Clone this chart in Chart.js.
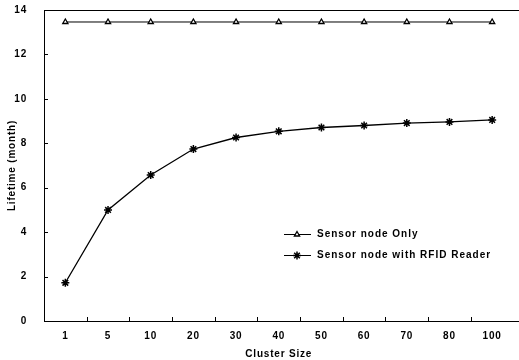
<!DOCTYPE html>
<html>
<head>
<meta charset="utf-8">
<script src="https://cdn.jsdelivr.net/npm/chart.js@4.4.1/dist/chart.umd.min.js"></script>
<style>
  html, body { margin: 0; padding: 0; background: #fff; }
  #wrap { width: 519px; height: 360px; }
</style>
</head>
<body>
<div id="wrap"><canvas id="lifeChart" width="519" height="360"></canvas></div>
<script>
/* ===== data ===== */
const clusterSizes = ["1", "5", "10", "20", "30", "40", "50", "60", "70", "80", "100"];
const sensorOnly = [13.46, 13.46, 13.46, 13.46, 13.46, 13.46, 13.46, 13.46, 13.46, 13.46, 13.46];
const sensorWithRfid = [1.72, 5.0, 6.57, 7.74, 8.26, 8.54, 8.71, 8.8, 8.91, 8.96, 9.05];
const seriesNames = ["Sensor node Only", "Sensor node with RFID Reader"];

const FONT = "'Liberation Sans', Arial, sans-serif";

/* wide-tracked bold text like the scanned figure */
const spacing = {
    id: "spacing",
    beforeDraw(chart) {
        chart.ctx.letterSpacing = "0.8px";
    }
};

/* frame (top, left, bottom) + inward tick marks */
const frameTicks = {
    id: "frameTicks",
    afterDatasetsDraw(chart) {
        const { ctx, chartArea: a, scales } = chart;
        ctx.save();
        ctx.strokeStyle = "#000";
        ctx.lineWidth = 1;
        ctx.beginPath();
        ctx.moveTo(chart.width, a.top + 0.5);
        ctx.lineTo(a.left + 0.5, a.top + 0.5);
        ctx.lineTo(a.left + 0.5, a.bottom + 0.5);
        ctx.lineTo(chart.width, a.bottom + 0.5);
        ctx.stroke();
        // y ticks pointing right
        scales.y.ticks.forEach((t, i) => {
            const py = Math.round(scales.y.getPixelForTick(i)) + 0.5;
            ctx.beginPath();
            ctx.moveTo(a.left, py);
            ctx.lineTo(a.left + 4, py);
            ctx.stroke();
        });
        // x ticks between categories, pointing up
        for (let i = 1; i < clusterSizes.length; i++) {
            const px = Math.round((scales.x.getPixelForValue(i - 1) + scales.x.getPixelForValue(i)) / 2) + 0.5;
            ctx.beginPath();
            ctx.moveTo(px, a.bottom);
            ctx.lineTo(px, a.bottom - 4);
            ctx.stroke();
        }
        ctx.restore();
    }
};

/* legend inside the plot */
const innerLegend = {
    id: "innerLegend",
    afterDraw(chart) {
        const { ctx } = chart;
        const x0 = 284;
        const rows = [234, 255];
        ctx.save();
        chart.data.datasets.forEach((ds, i) => {
            const y = rows[i] + 0.5;
            ctx.strokeStyle = "#000";
            ctx.lineWidth = 1;
            ctx.beginPath();
            ctx.moveTo(x0, y);
            ctx.lineTo(x0 + 27, y);
            ctx.stroke();
            ctx.fillStyle = "#fff";
            ctx.lineWidth = ds.pointBorderWidth;
            Chart.helpers.drawPoint(ctx, {
                pointStyle: ds.pointStyle,
                radius: ds.pointRadius,
                borderWidth: ds.pointBorderWidth
            }, x0 + 13, y);
            ctx.fillStyle = "#000";
            ctx.font = "bold 10px " + FONT;
            ctx.letterSpacing = "1px";
            ctx.textBaseline = "middle";
            ctx.fillText(ds.label, x0 + 33, y);
        });
        ctx.restore();
    }
};

new Chart(document.getElementById("lifeChart"), {
    type: "line",
    data: {
        labels: clusterSizes,
        datasets: [
            {
                label: seriesNames[0],
                data: sensorOnly,
                borderColor: "#000",
                backgroundColor: "#fff",
                borderWidth: 1,
                pointStyle: "triangle",
                pointRadius: 3,
                pointBorderWidth: 1.3,
                pointBorderColor: "#000",
                pointBackgroundColor: "#fff"
            },
            {
                label: seriesNames[1],
                data: sensorWithRfid,
                borderColor: "#000",
                backgroundColor: "#000",
                borderWidth: 1.3,
                pointStyle: "star",
                pointRadius: 4,
                pointBorderWidth: 1.5,
                pointBorderColor: "#000"
            }
        ]
    },
    options: {
        responsive: false,
        animation: false,
        layout: { padding: { top: 10, right: 0, left: 6, bottom: 0 } },
        plugins: {
            legend: { display: false },
            tooltip: { enabled: false }
        },
        scales: {
            x: {
                offset: true,
                grid: { display: false, drawTicks: false },
                border: { display: false },
                ticks: {
                    color: "#000",
                    padding: 9,
                    maxRotation: 0,
                    font: { family: FONT, size: 10, weight: "bold" }
                },
                title: {
                    display: true,
                    text: "Cluster Size",
                    color: "#000",
                    padding: { top: -3, bottom: 0 },
                    font: { family: FONT, size: 10, weight: "bold" }
                }
            },
            y: {
                min: 0,
                max: 14,
                afterFit(scale) {
                    scale.width = 38;
                    scale.paddingTop = 0;
                    scale.paddingBottom = 0;
                },
                grid: { display: false, drawTicks: false },
                border: { display: false },
                ticks: {
                    stepSize: 2,
                    color: "#000",
                    padding: 17,
                    font: { family: FONT, size: 10, weight: "bold" }
                },
                title: {
                    display: true,
                    text: "Lifetime (month)",
                    color: "#000",
                    padding: { top: 0, bottom: 0 },
                    font: { family: FONT, size: 10, weight: "bold" }
                }
            }
        }
    },
    plugins: [spacing, frameTicks, innerLegend]
});
</script>
</body>
</html>
